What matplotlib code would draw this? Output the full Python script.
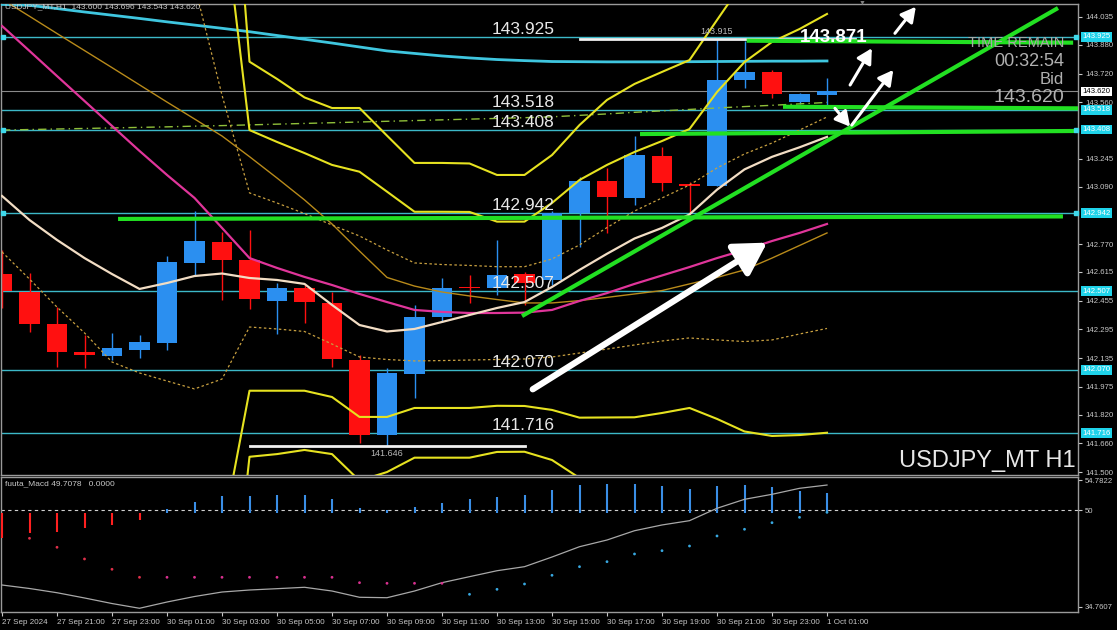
import matplotlib
matplotlib.use('Agg')
import matplotlib.pyplot as plt
import numpy as np

plt.rcParams['font.family'] = ['Liberation Sans', 'DejaVu Sans']

nan = np.nan

# ---- data (USDJPY_MT H1) ----
time_labels = ['27 Sep 2024', '27 Sep 21:00', '27 Sep 23:00', '30 Sep 01:00', '30 Sep 03:00',
               '30 Sep 05:00', '30 Sep 07:00', '30 Sep 09:00', '30 Sep 11:00', '30 Sep 13:00',
               '30 Sep 15:00', '30 Sep 17:00', '30 Sep 19:00', '30 Sep 21:00', '30 Sep 23:00',
               '1 Oct 01:00']

opens = [142.603, 142.505, 142.325, 142.167, 142.148, 142.180, 142.221, 142.663, 142.783, 142.681,
         142.453, 142.524, 142.443, 142.124, 141.706, 142.044, 142.362, 142.529, 142.524, 142.603,
         142.570, 142.941, 143.123, 143.025, 143.261, 143.105, 143.095, 143.684, 143.727, 143.563,
         143.600]
highs = [142.737, 142.609, 142.419, 142.263, 142.273, 142.263, 142.703, 142.956, 142.839, 142.848,
         142.553, 142.542, 142.505, 142.152, 142.078, 142.430, 142.579, 142.598, 142.793, 142.614,
         142.954, 143.145, 143.192, 143.372, 143.309, 143.117, 143.915, 143.903, 143.740, 143.613,
         143.696]
lows = [142.414, 142.282, 142.087, 142.080, 142.124, 142.135, 142.180, 142.598, 142.458, 142.407,
        142.269, 142.330, 142.087, 141.660, 141.646, 141.911, 142.336, 142.443, 142.486, 142.430,
        142.542, 142.755, 142.830, 142.988, 143.067, 142.945, 143.094, 143.638, 143.582, 143.550,
        143.543]
closes = [142.508, 142.325, 142.170, 142.152, 142.189, 142.224, 142.668, 142.789, 142.681, 142.464,
          142.524, 142.449, 142.128, 141.706, 142.050, 142.362, 142.524, 142.526, 142.598, 142.555,
          142.941, 143.123, 143.034, 143.266, 143.109, 143.094, 143.684, 143.727, 143.606, 143.606,
          143.620]

ma_cyan = [144.105, 144.100, 144.082, 144.063, 144.045, 144.027, 144.008, 143.990, 143.972, 143.953,
           143.932, 143.911, 143.890, 143.868, 143.846, 143.832, 143.818, 143.807, 143.798, 143.792,
           143.787, 143.786, 143.785, 143.785, 143.785, 143.786, 143.787, 143.788, 143.789, 143.789,
           143.790]
ma_magenta = [143.985, 143.846, 143.706, 143.567, 143.428, 143.289, 143.155, 143.027, 142.860, 142.692,
              142.637, 142.587, 142.542, 142.492, 142.447, 142.403, 142.392, 142.386, 142.386, 142.388,
              142.403, 142.453, 142.497, 142.548, 142.595, 142.642, 142.692, 142.737, 142.787, 142.832,
              142.882]
ma_cream = [143.038, 142.904, 142.793, 142.692, 142.603, 142.520, 142.553, 142.592, 142.606, 142.581,
            142.570, 142.548, 142.431, 142.319, 142.283, 142.297, 142.336, 142.375, 142.414, 142.447,
            142.531, 142.626, 142.716, 142.801, 142.860, 142.935, 143.073, 143.186, 143.256, 143.309,
            143.367]
ma_tan = [144.134, 144.039, 143.943, 143.848, 143.753, 143.657, 143.561, 143.467, 143.372, 143.257,
          143.138, 143.016, 142.882, 142.731, 142.584, 142.536, 142.503, 142.481, 142.461, 142.442,
          142.442, 142.455, 142.473, 142.492, 142.511, 142.548, 142.584, 142.626, 142.692, 142.762,
          142.832]
ma_dashdot = [143.405, 143.408, 143.411, 143.414, 143.417, 143.420, 143.423, 143.427, 143.430, 143.434,
              143.438, 143.442, 143.446, 143.450, 143.454, 143.458, 143.462, 143.466, 143.470, 143.474,
              143.479, 143.487, 143.495, 143.504, 143.512, 143.520, 143.528, 143.536, 143.543, 143.551,
              143.559]
env_upper = [nan] * 7 + [144.213, 143.600, 143.055, 142.999, 142.940, 142.876, 142.815, 142.737,
                         142.665, 142.656, 142.651, 142.644, 142.644, 142.687, 142.765, 142.862,
                         142.954, 143.027, 143.099, 143.194, 143.272, 143.333, 143.405, 143.478]
env_lower = [142.726, 142.575, 142.419, 142.275, 142.113, 142.052, 142.007, 141.963, 142.018, 142.308,
             142.297, 142.283, 142.213, 142.141, 142.127, 142.119, 142.121, 142.124, 142.127, 142.130,
             142.141, 142.163, 142.185, 142.208, 142.230, 142.247, 142.236, 142.227, 142.236, 142.269,
             142.300]
bb_up2 = [nan] * 8 + [145.717, 143.786, 143.690, 143.587, 143.528, 143.528, 143.374, 143.222, 143.222,
                      143.219, 143.155, 143.155, 143.266, 143.433, 143.573, 143.662, 143.729, 143.795,
                      144.018, 144.240, 144.350, 144.430, 144.510]
bb_up1 = [nan] * 8 + [144.691, 143.405, 143.339, 143.277, 143.211, 143.173, 143.062, 142.950, 142.950,
                      142.949, 142.895, 142.895, 142.999, 143.127, 143.211, 143.283, 143.344, 143.411,
                      143.617, 143.784, 143.896, 143.968, 144.052]
bb_lo1 = [nan] * 8 + [141.146, 141.953, 141.953, 141.953, 141.918, 141.807, 141.807, 141.857, 141.857,
                      141.857, 141.869, 141.868, 141.846, 141.803, 141.804, 141.805, 141.829, 141.857,
                      141.796, 141.726, 141.701, 141.706, 141.719]
bb_lo2 = [nan] * 8 + [140.185, 141.585, 141.600, 141.623, 141.600, 141.452, 141.500, 141.580, 141.580,
                      141.580, 141.612, 141.613, 141.567, 141.467, 141.443, 141.426, 141.444, 141.473,
                      141.395, 141.270, 141.250, 141.240, 141.260]

# grid labels that are not hidden behind the level boxes
price_ticks = [144.035, 143.880, 143.720, 143.560, 143.245, 143.090, 142.770,
               142.615, 142.455, 142.295, 142.135, 141.975, 141.820, 141.660, 141.500]
hline_levels = [143.925, 143.518, 143.408, 142.942, 142.507, 142.070, 141.716]
anchored_levels = [143.925, 143.408, 142.942]
bid = 143.620
bid_high_label = 143.871

# drawn objects (bar index, price)
green_lines = [(4.22, 142.910, 38.58, 142.924), (23.2, 143.383, 39.02, 143.400),
               (28.4, 143.535, 39.13, 143.526), (27.08, 143.903, 38.95, 143.892),
               (18.91, 142.369, 38.4, 144.085)]
white_lines = [(21.0, 31.0, 143.915), (9.0, 19.0, 141.646)]
small_arrows = [((30.29, 143.526), (30.84, 143.424)), ((30.84, 143.656), (31.63, 143.861)),
                ((30.90, 143.433), (32.41, 143.740)), ((32.47, 143.944), (33.23, 144.092))]
big_arrow = ((19.30, 141.961), (27.82, 142.778))

# oscillator (fuuta_Macd)
macd_hist = [45.65, 46.44, 46.60, 47.23, 47.71, 48.50, 50.24, 51.34, 52.29, 52.29, 52.45, 52.45, 51.82,
             50.40, 50.08, 50.55, 51.19, 51.82, 52.14, 52.45, 53.24, 54.03, 54.19, 54.19, 53.92, 53.40,
             53.92, 54.03, 53.72, 53.13, 52.72]
macd_dots = [nan, 45.60, 44.18, 42.33, 40.70, 39.43, 39.43, 39.43, 39.43, 39.43, 39.43, 39.43, 39.43,
             38.58, 38.48, 38.48, 38.48, 36.74, 37.53, 38.37, 39.75, 41.11, 41.90, 43.12, 43.64, 44.38,
             45.97, 47.03, 48.07, 48.92, 49.7078]
macd_signal = [38.21, 37.66, 36.99, 36.16, 35.28, 34.53, 35.52, 36.39, 37.10, 37.42, 37.63, 37.85,
               37.26, 36.27, 36.20, 37.26, 38.58, 39.53, 40.47, 41.11, 42.64, 44.27, 45.33, 46.80,
               47.71, 48.39, 50.35, 51.77, 52.56, 53.51, 54.03]
macd_ticks = [54.7822, 50, 34.7607]

# ---- figure ----
W, H = 1117, 630
fig = plt.figure(figsize=(W / 100, H / 100), dpi=100, facecolor='black')


def box(x0, y0, x1, y1):
    return [x0 / W, 1 - y1 / H, (x1 - x0) / W, (y1 - y0) / H]


def fx(px):
    return px / W


def fy(py):
    return 1 - py / H


x = np.arange(len(opens))
xlim = (-1 / 27.5, 1076 / 27.5)

ax = fig.add_axes(box(1, 4, 1078, 475))
ax2 = fig.add_axes(box(1, 477, 1078, 612))
for a in (ax, ax2):
    a.set_facecolor('black')
    a.set_xlim(*xlim)
    for s in a.spines.values():
        s.set_color('#9a9a9a')
        s.set_linewidth(1)

ax.set_ylim(141.4835, 144.1074)
ax2.set_ylim(33.94, 55.30)

# horizontal levels
for lv in hline_levels:
    ax.axhline(lv, color='#3cb8c8', lw=1, zorder=1)
ax.axhline(bid, color='#8a8a8a', lw=0.8, zorder=1)

# candles
o, h, l, c = map(np.array, (opens, highs, lows, closes))
up = c >= o
cols = np.where(up, '#2b8ff0', '#ff1010')
ax.vlines(x, l, h, colors=cols, lw=1, zorder=2)
body = np.maximum(np.abs(c - o), 0.006)
ax.bar(x, body, bottom=np.minimum(o, c), width=0.74, color=cols, zorder=2.2)

# indicators
ax.plot(x, ma_cyan, color='#3fc6df', lw=2, zorder=3)
ax.plot(x, ma_tan, color='#b88a1a', lw=1, zorder=3)
ax.plot(x, env_upper, color='#c8a040', lw=0.9, ls=(0, (2, 2)), zorder=3)
ax.plot(x, env_lower, color='#c8a040', lw=0.9, ls=(0, (2, 2)), zorder=3)
ax.plot(x, ma_dashdot, color='#8fbf3a', lw=1, ls=(0, (6, 3, 1, 3)), zorder=3)
for band in (bb_up2, bb_up1, bb_lo1, bb_lo2):
    ax.plot(x, band, color='#e6e220', lw=1.5, zorder=3.2)
ax.plot(x, ma_magenta, color='#e0359a', lw=1.6, zorder=3.3)
ax.plot(x, ma_cream, color='#f2ddc4', lw=1.6, zorder=3.3)

# drawn objects
for x0, y0, x1, y1 in green_lines:
    ax.plot([x0, x1], [y0, y1], color='#22e022', lw=3, zorder=5, solid_capstyle='butt')
for x0, x1, lv in white_lines:
    ax.plot([x0, x1], [lv, lv], color='#f0f0f0', lw=2, zorder=4)
ax.annotate(f'{white_lines[0][2]:.3f}', (26, white_lines[0][2]), xytext=(0, 2),
            textcoords='offset points', ha='center', va='bottom', fontsize=6.5, color='#b8b8b8', zorder=7)
ax.annotate(f'{white_lines[1][2]:.3f}', (14, white_lines[1][2]), xytext=(0, -2),
            textcoords='offset points', ha='center', va='top', fontsize=6.5, color='#b8b8b8', zorder=7)

for tail, tip in small_arrows:
    ax.annotate('', xy=tip, xytext=tail, zorder=6,
                arrowprops=dict(arrowstyle='-|>,head_length=0.55,head_width=0.3', color='white',
                                lw=2.2, mutation_scale=16, shrinkA=0, shrinkB=0))
ax.annotate('', xy=big_arrow[1], xytext=big_arrow[0], zorder=6,
            arrowprops=dict(arrowstyle='-|>,head_length=0.6,head_width=0.35', color='white',
                            lw=4.5, mutation_scale=32, shrinkA=0, shrinkB=0))

# level labels
for lv in hline_levels:
    ax.annotate(f'{lv:.3f}', (17.82, lv), xytext=(0, 0), textcoords='offset points',
                ha='left', va='bottom', fontsize=12.5, color='#e8e8e8', zorder=7)
ax.text(798 / 27.5, bid_high_label, f'{bid_high_label:.3f}', ha='left', va='bottom',
        fontsize=13.5, fontweight='bold', color='white', zorder=7)

# anchor squares
ytr = ax.get_yaxis_transform()
for lv in anchored_levels:
    ax.plot([0.002, 0.998], [lv, lv], ls='none', marker='s', ms=3, color='#3fd8ea',
            transform=ytr, clip_on=False, zorder=6)

# price axis
ax.set_xticks([])
ax.yaxis.tick_right()
ax.set_yticks(price_ticks)
ax.set_yticklabels([f'{p:.3f}' for p in price_ticks])
ax.tick_params(axis='y', colors='#c8c8c8', labelsize=5.6, length=3, width=0.8, pad=2)
for lv in hline_levels:
    ax.text(1.004, lv, f'{lv:.3f}', transform=ytr, ha='left', va='center', fontsize=5.6,
            color='white', clip_on=False, zorder=8,
            bbox=dict(boxstyle='square,pad=0.18', fc='#1fd3ea', ec='none'))
ax.text(1.004, bid, f'{bid:.3f}', transform=ytr, ha='left', va='center', fontsize=5.6,
        color='black', clip_on=False, zorder=8,
        bbox=dict(boxstyle='square,pad=0.18', fc='white', ec='none'))

# oscillator panel
hv = np.array(macd_hist)
hcols = np.where(hv >= 50, '#3a8ee6', '#ff2020')
ax2.vlines(x, 49.6, hv, colors=hcols, lw=1.5, zorder=3)
ax2.axhline(50, color='#d0d0d0', lw=0.8, ls=(0, (3, 3)), zorder=2)
ax2.plot(x, macd_signal, color='#a8a8a8', lw=0.9, zorder=3)
dcols = ['#e0304a' if i <= 5 else '#d8308f' if i <= 16 else '#38a8e0' for i in x]
ax2.scatter(x, macd_dots, s=4, c=dcols, zorder=4, linewidths=0)
ax2.yaxis.tick_right()
ax2.set_yticks(macd_ticks)
ax2.set_yticklabels(['54.7822', '50', '34.7607'])
ax2.tick_params(axis='y', colors='#c8c8c8', labelsize=5.6, length=3, width=0.8, pad=2)
ax2.set_xticks(np.arange(0, len(opens), 2))
ax2.set_xticklabels(time_labels)
ax2.tick_params(axis='x', colors='#c8c8c8', labelsize=5.8, length=3, width=0.8, pad=2)
for lab in ax2.get_xticklabels():
    lab.set_horizontalalignment('left')

# header & overlay texts
fig.text(fx(5), fy(7), f'USDJPY_MT,H1  {opens[-1]:.3f} {highs[-1]:.3f} {lows[-1]:.3f} {closes[-1]:.3f}',
         fontsize=6, color='#c8c8c8', va='center')
fig.text(fx(5), fy(484), f'fuuta_Macd {macd_dots[-1]:.4f}   0.0000', fontsize=6, color='#c8c8c8',
         va='center')
fig.text(fx(1064), fy(43), 'TIME REMAIN', fontsize=10.5, color='#a8a8a8', ha='right', va='center')
fig.text(fx(1064), fy(62), '00:32:54', fontsize=13, color='#b0b0b0', ha='right', va='center')
fig.text(fx(1064), fy(80), 'Bid', fontsize=12, color='#b0b0b0', ha='right', va='center')
fig.text(fx(1064), fy(98), f'{bid:.3f}', fontsize=14, color='#b0b0b0', ha='right', va='center')
fig.text(fx(1076), fy(461), 'USDJPY_MT H1', fontsize=17, color='#e8e8e8', ha='right', va='center')
fig.text(fx(862), fy(3), '▼', fontsize=5, color='#808080', ha='center', va='center')

fig.savefig('out.png', dpi=100, facecolor='black')
